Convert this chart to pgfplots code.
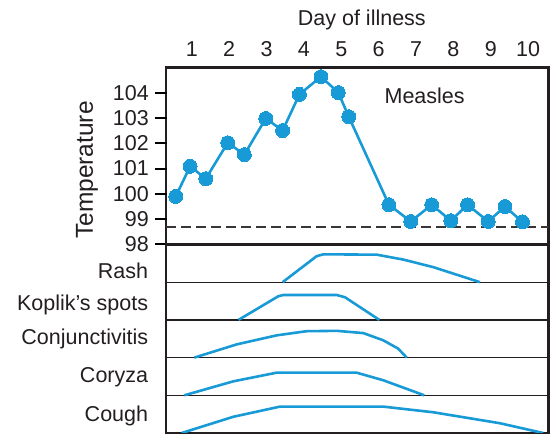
\documentclass[border=0pt]{standalone}
\usepackage{fontspec}
\setmainfont{Liberation Sans}
\usepackage{pgfplots}
\pgfplotsset{compat=1.18}
\definecolor{mblue}{RGB}{24,154,214}
\definecolor{axframe}{RGB}{35,31,32}
\newcommand{\lbl}{\fontsize{21.5bp}{24bp}\selectfont}
\begin{document}
\begin{tikzpicture}
\path[use as bounding box] (0,0) rectangle (556bp,441bp);
% ---- temperature panel ----
\begin{axis}[
  name=T,
  at={(166bp,196.5bp)}, anchor=south west,
  scale only axis, width=382.7bp, height=177.2bp,
  xmin=0.31, xmax=10.55, ymin=98, ymax=105,
  clip mode=individual,
  xtick=\empty,
  ytick={98,...,104}, ytick pos=left,
  tick align=outside, major tick length=11bp,
  ytick style={draw=black, line width=2bp},
  axis line style={line width=2.6bp, draw=axframe},
  tick label style={font=\lbl, /pgf/number format/assume math mode=true, text=axframe},
  yticklabel style={inner sep=0pt, xshift=-6bp},
]
\addplot[axframe!90!white, dash pattern=on 10bp off 5bp, line width=1.6bp] coordinates {(0.31,98.7) (10.55,98.7)};
\addplot[mblue, line width=2.6bp, mark=*, mark size=7pt,
  mark options={solid, fill=mblue, draw=mblue, line width=0pt}] coordinates {
  (0.572,99.90) (0.955,101.09) (1.374,100.60) (1.963,102.02) (2.406,101.55)
  (2.98,102.98) (3.43,102.50) (3.88,103.93) (4.457,104.63) (4.92,104.0)
  (5.20,103.05) (6.275,99.57) (6.86,98.91) (7.42,99.57) (7.93,98.94)
  (8.38,99.57) (8.93,98.91) (9.38,99.50) (9.85,98.89)};
\pgfplotsinvokeforeach{1,...,10}{
  \node[font=\lbl, text=axframe, anchor=base] at ([yshift=10.7bp]axis cs:#1,105) {#1};
}
\node[font=\lbl, text=axframe, anchor=base] at (axis cs:7.23,103.58) {Measles};
\node[font=\lbl, text=axframe, anchor=base] at ([yshift=41.3bp]axis cs:5.55,105) {Day of illness};
\node[font=\fontsize{24.5bp}{27bp}\selectfont, text=axframe, rotate=90] at ([xshift=-79bp]axis cs:0.31,100.94) {Temperature};
\end{axis}
% y tick marks of the temperature panel (one per degree, 177.2bp / 7)
\foreach \k in {0,...,6} {
  \draw[draw=black, line width=2bp] ([xshift=1bp,yshift=\k*25.314bp]T.south west) -- ([xshift=-11bp,yshift=\k*25.314bp]T.south west);
}
% ---- symptom panel ----
\begin{axis}[
  at={(166bp,8bp)}, anchor=south west,
  scale only axis, width=382.7bp, height=188.5bp,
  xmin=0.31, xmax=10.55, ymin=0, ymax=5,
  xtick=\empty,
  ytick={0.44,1.485,2.49,3.41,4.31},
  yticklabels={Cough,Coryza,Conjunctivitis,Koplik’s spots,Rash},
  major tick length=0pt, minor tick length=0pt,
  minor ytick={1,2,3,4}, yminorgrids,
  minor grid style={line width=1.4bp, color=axframe},
  axis line style={line width=2.6bp, draw=axframe},
  yticklabel style={inner sep=0pt, xshift=-17.7bp, font=\lbl, text=axframe},
]
\addplot[mblue, line width=2.6bp] coordinates {(3.43,4) (4.34,4.69) (4.52,4.74) (5.95,4.73) (6.66,4.6) (7.46,4.4) (8.71,4)};
\addplot[mblue, line width=2.6bp] coordinates {(2.25,3) (3.32,3.63) (3.45,3.66) (4.88,3.66) (5.10,3.6) (6.02,3)};
\addplot[mblue, line width=2.6bp] coordinates {(1.07,2) (2.20,2.35) (3.27,2.59) (4.07,2.70) (4.88,2.71) (5.59,2.65) (6.12,2.46) (6.52,2.24) (6.75,2)};
\addplot[mblue, line width=2.6bp] coordinates {(0.80,1) (2.11,1.37) (3.27,1.60) (5.41,1.60) (6.12,1.40) (7.22,1)};
\addplot[mblue, line width=2.6bp] coordinates {(0.73,0) (2.11,0.43) (3.36,0.70) (6.12,0.70) (7.46,0.55) (9.24,0.26) (10.40,0)};
\end{axis}
\end{tikzpicture}
\end{document}
